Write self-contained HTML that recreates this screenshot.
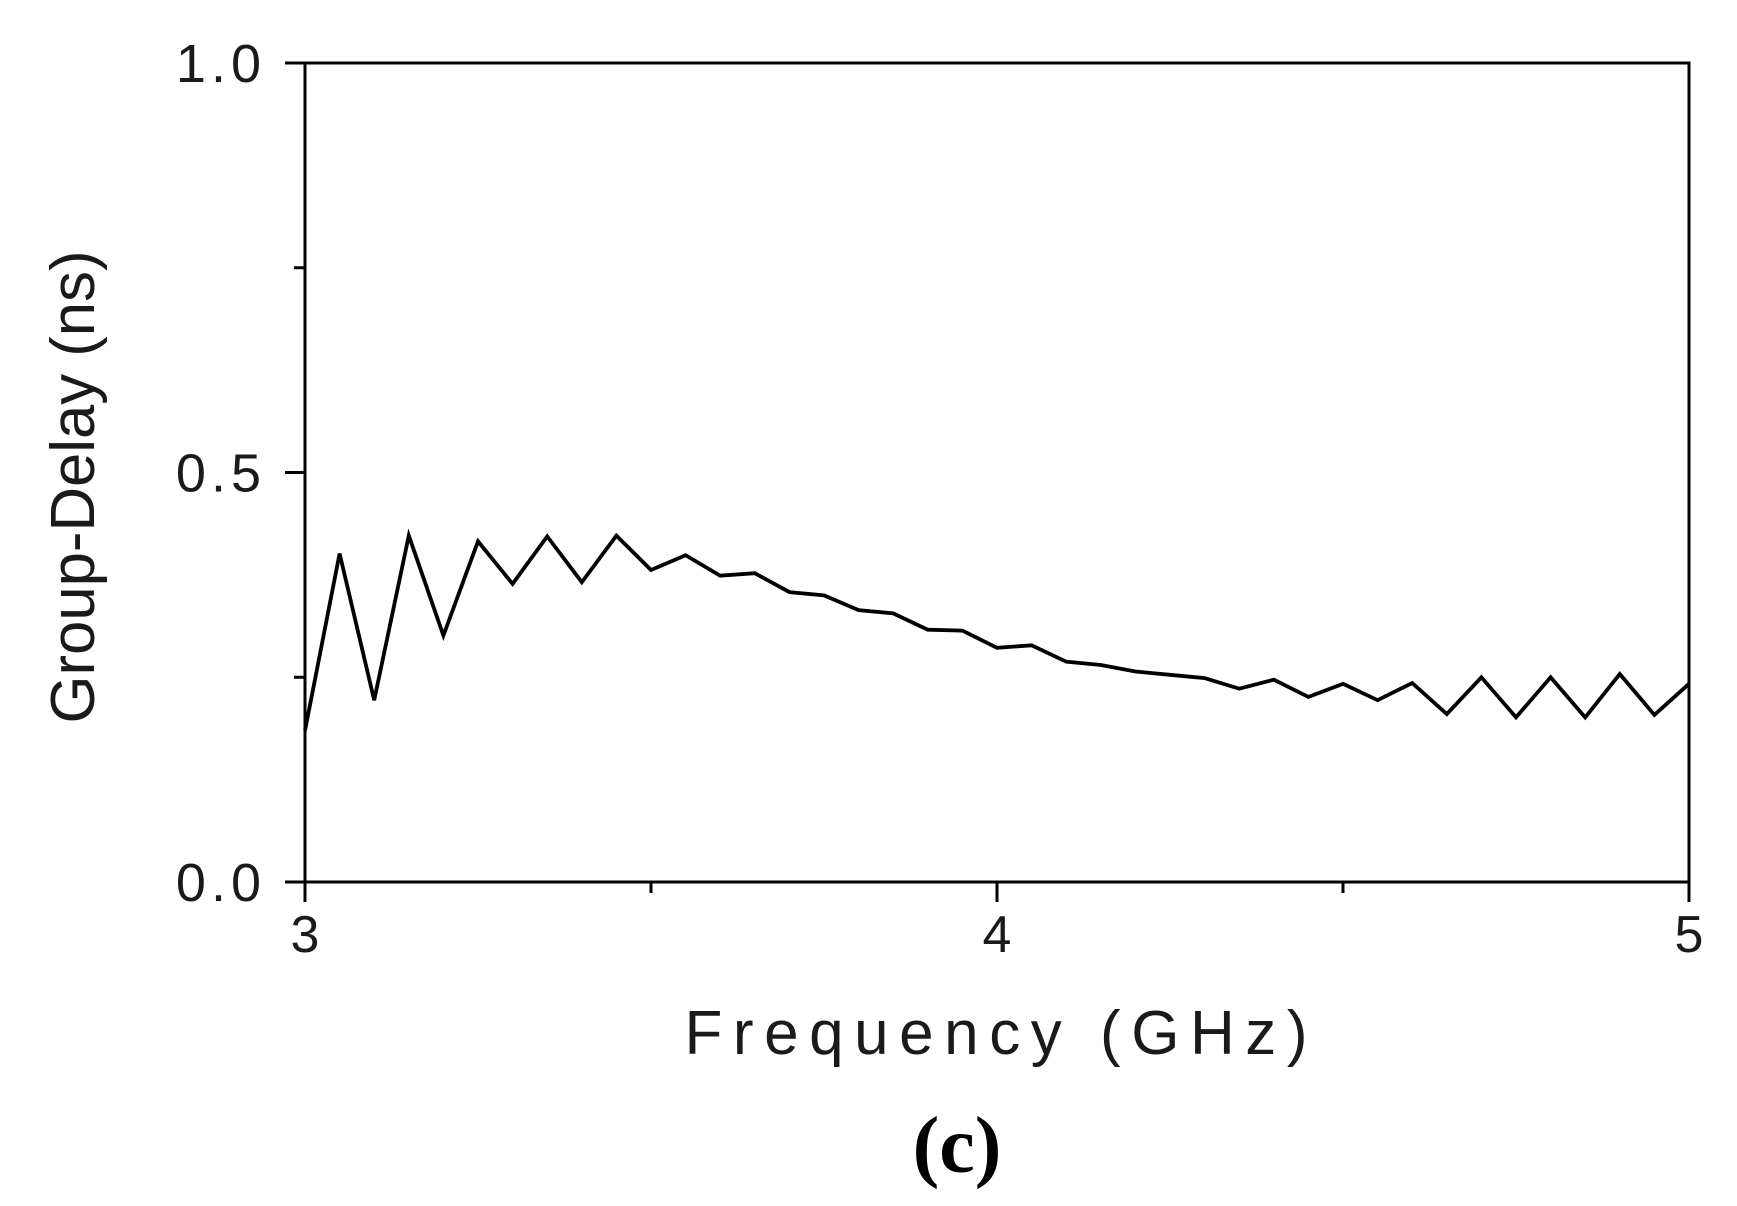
<!DOCTYPE html>
<html><head><meta charset="utf-8"><style>
html,body{margin:0;padding:0;background:#fff;}
svg{display:block;}
</style></head><body>
<svg id="chart" width="1737" height="1206" viewBox="0 0 1737 1206" xmlns="http://www.w3.org/2000/svg">
<rect width="1737" height="1206" fill="#fff"/>
<g id="axes"></g>
<path id="series" fill="none" stroke="#000" stroke-width="3.8" stroke-linejoin="miter"/>
<text transform="translate(94,487) rotate(-90)" text-anchor="middle" font-family="Liberation Sans, sans-serif" font-size="62" textLength="473" lengthAdjust="spacingAndGlyphs" fill="#1a1a1a">Group-Delay (ns)</text>
<text x="996" y="1054" text-anchor="middle" font-family="Liberation Sans, sans-serif" font-size="62" textLength="623" lengthAdjust="spacing" fill="#1a1a1a">Frequency (GHz)</text>
<text x="957" y="1172" text-anchor="middle" font-family="Liberation Serif, serif" font-weight="bold" font-size="80" fill="#000">(c)</text>
</svg>
<script>
const freqStart = 3.0;
const freqStep = 0.05;
const delayValues = [0.185,0.401,0.222,0.423,0.301,0.416,0.364,0.422,0.366,0.423,0.381,0.399,0.374,0.377,0.354,0.350,0.332,0.328,0.308,0.307,0.286,0.289,0.269,0.265,0.257,0.253,0.249,0.236,0.247,0.226,0.242,0.222,0.243,0.205,0.250,0.201,0.250,0.201,0.254,0.204,0.242];
const yTicks = [0.0,0.5,1.0];
const yTickLabels = ["0.0","0.5","1.0"];
const yMinorTicks = [0.25,0.75];
const xTicks = [3,4,5];
const xTickLabels = ["3","4","5"];
const xMinorTicks = [3.5,4.5];

const L=305,R=1689,T=63,B=882;
const xs = v => L + (v-3)/(5-3)*(R-L);
const ys = v => B - v/1.0*(B-T);
const NS="http://www.w3.org/2000/svg";
const axes=document.getElementById('axes');
function mk(tag,attrs){const e=document.createElementNS(NS,tag);for(const k in attrs)e.setAttribute(k,attrs[k]);axes.appendChild(e);return e;}

const frame=mk('rect',{x:L,y:T,width:R-L,height:B-T,fill:'none',stroke:'#000','stroke-width':3});



yTicks.forEach((v,i)=>{
  const t=mk('line',{x1:L-20,x2:L,y1:ys(v),y2:ys(v),stroke:'#000','stroke-width':3});
  
  
  const lb=mk('text',{x:266,y:ys(v)+19,'text-anchor':'end','font-family':'Liberation Sans, sans-serif','font-size':54,fill:'#1a1a1a','letter-spacing':5});
  lb.textContent=yTickLabels[i];
  
  
});
yMinorTicks.forEach(v=>{
  const t=mk('line',{x1:L-11,x2:L,y1:ys(v),y2:ys(v),stroke:'#000','stroke-width':3});
  
  
});
xTicks.forEach((v,i)=>{
  const t=mk('line',{x1:xs(v),x2:xs(v),y1:B,y2:B+20,stroke:'#000','stroke-width':3});
  
  
  const lb=mk('text',{x:xs(v),y:952,'text-anchor':'middle','font-family':'Liberation Sans, sans-serif','font-size':52,fill:'#1a1a1a'});
  lb.textContent=xTickLabels[i];
  
  
});
xMinorTicks.forEach(v=>{
  const t=mk('line',{x1:xs(v),x2:xs(v),y1:B,y2:B+11,stroke:'#000','stroke-width':3});
  
  
});

let d='';
delayValues.forEach((v,i)=>{
  const f=freqStart+i*freqStep;
  d+=(i?'L':'M')+xs(f).toFixed(1)+','+ys(v).toFixed(1);
});
document.getElementById('series').setAttribute('d',d);
</script>
</body></html>
